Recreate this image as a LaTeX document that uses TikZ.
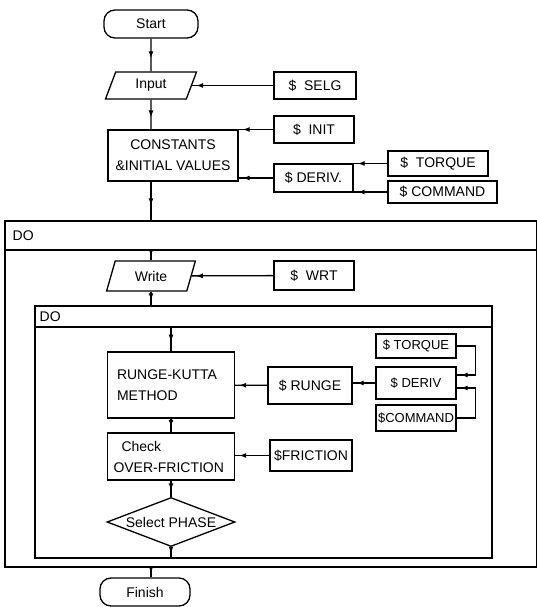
\documentclass[tikz,border=0pt]{standalone}
\usepackage{fontspec}
\setmainfont{Liberation Sans}
\usetikzlibrary{shapes.geometric,arrows.meta,decorations.markings}

\begin{document}
\begin{tikzpicture}[x=1pt, y=-1pt, line width=1.3pt,
  every node/.style={font=\fontsize{14}{21}\selectfont, inner sep=2pt},
  box/.style={draw, rectangle},
  small/.style={font=\fontsize{13}{15}\selectfont, inner sep=1pt},
  term/.style={draw, rectangle, rounded corners=11pt},
  io/.style={draw, trapezium, trapezium left angle=73, trapezium right angle=107, trapezium stretches=true},
  test/.style={draw, diamond, aspect=2.6, inner sep=0pt},
  flow/.style={postaction={decorate}, decoration={markings, mark=at position 0.6 with {\arrow{Latex[length=7pt,width=5pt]}}}},
  feed/.style={postaction={decorate}, decoration={markings, mark=at position -4pt with {\arrow{Latex[length=7pt,width=5pt]}}}}]
\useasboundingbox (0,0) rectangle (537,607);

% main line
\node[term, minimum width=94, minimum height=28] (start) at (151,24) {Start};
\node[io, minimum width=91, minimum height=27] (input) at (151,85.5) {Input};
\node[box, minimum width=82, minimum height=27] (selg) at (315,85.5) {\$\ \ SELG};
\node[box, minimum width=130, minimum height=51, align=center] (cons) at (173,155.5) {CONSTANTS\\\&INITIAL VALUES};
\node[box, minimum width=80, minimum height=27] (init) at (314,129.5) {\$\ \ INIT};
\node[box, minimum width=79, minimum height=28] (deriv) at (313.5,178) {\$ DERIV.};
\node[box, minimum width=100, minimum height=25] (torque) at (438,163.5) {\$\ \ TORQUE};
\node[box, minimum width=109, minimum height=22] (command) at (442.5,192) {\$ COMMAND};

\draw[flow] (start) -- (input);
\draw[feed] (selg) -- (input);
\draw[flow] (input) -- (input |- cons.north);
\draw[feed] (init.west) -- (init.west -| cons.east);
\draw[feed] (deriv.west) -- (deriv.west -| cons.east);
\draw[feed] (torque.west) -- (torque.west -| deriv.east);
\draw[feed] (command.west) -- (command.west -| deriv.east);

% outer DO
\coordinate (top1) at (151,221);
\coordinate (head1) at (151,250);
\coordinate (bot1) at (151,567);
\draw (5,221) rectangle (537,567);
\draw (5,250) -- (537,250);
\node[anchor=west] (do1) at (10,236) {DO};
\draw[flow] (cons.south -| top1) -- (top1);

\node[io, minimum width=89, minimum height=30] (write) at (151,276) {Write};
\node[box, minimum width=80, minimum height=29] (wrt) at (314,275.5) {\$\ \ WRT};
\draw[flow] (head1) -- (write);
\draw[feed] (wrt) -- (write);

% inner DO
\coordinate (top2) at (151,306);
\coordinate (head2) at (171,327);
\coordinate (bot2) at (171,558);
\draw (35,306) rectangle (492,558);
\draw (35,327) -- (492,327);
\node[anchor=west] (do2) at (37,316.5) {DO};
\draw[flow] (write) -- (top2);

\node[box, minimum width=127, minimum height=66, align=left, text width=108] (rk) at (171,385) {RUNGE-KUTTA\\METHOD};
\node[box, minimum width=84, minimum height=37] (runge) at (310,385.5) {\$ RUNGE};
\node[box, small, minimum width=80, minimum height=24] (torque2) at (416,346) {\$ TORQUE};
\node[box, small, minimum width=80, minimum height=32] (deriv2) at (416,383) {\$ DERIV};
\node[box, small, minimum width=80, minimum height=26] (command2) at (416,418) {\$COMMAND};
\draw[flow] (head2) -- (rk);
\draw[feed] (runge) -- (rk);
\draw[feed] (deriv2.west) -- (deriv2.west -| runge.east);
\draw[feed] (torque2.east) -- ++(19,0) |- ([yshift=8pt]deriv2.east);
\draw[feed] (command2.east) -- ++(19,0) |- ([yshift=-5pt]deriv2.east);

\node[box, minimum width=127, minimum height=47, align=left, text width=115] (check) at (171,456.5) {\hspace{8pt}Check\\OVER-FRICTION};
\node[box, minimum width=82, minimum height=31] (friction) at (311,455.5) {\$FRICTION};
\draw[flow] (rk) -- (check);
\draw[feed] (friction.west) -- (friction.west -| check.east);

\node[test, minimum width=128, minimum height=49] (select) at (171,522) {Select PHASE};
\draw[flow] (check) -- (select);
\draw[flow] (select) -- (bot2);

\node[term, minimum width=90, minimum height=28] (finish) at (145,592) {Finish};
\draw[flow] (bot1) -- (bot1 |- finish.north);

\end{tikzpicture}
\end{document}
